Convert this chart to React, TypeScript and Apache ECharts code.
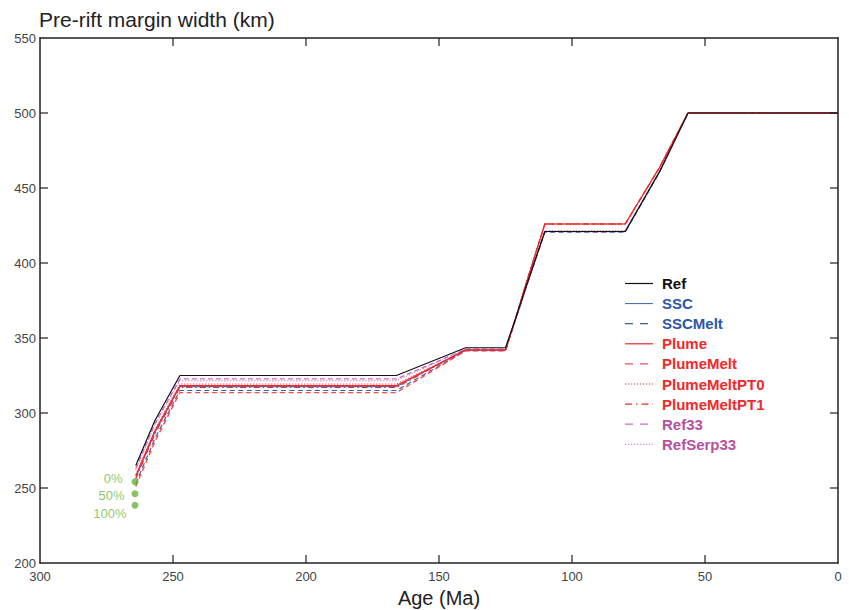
import React, { useEffect, useRef } from "react";
import * as echarts from "echarts";

const AGES = [264, 256.8, 247.4, 166, 140, 125, 121.4, 117.3, 110.2, 80, 67, 56.4, 0];

const REF = [265, 295, 325, 325, 343.5, 343.5, 362, 384, 421, 421, 461, 500, 500];
const SSC = [257, 287, 317.6, 317.6, 342, 342, 361.5, 384, 421, 421, 461.5, 500, 500];
const SSC_MELT = [253, 283, 315, 315, 341.5, 341.5, 361, 383.5, 420.5, 420.5, 461, 500, 500];
const PLUME = [258, 288, 318.3, 318.3, 342, 342, 362, 386, 426, 426, 464, 500, 500];
const PLUME_MELT = [251, 281, 313.6, 313.6, 341.5, 341.5, 362, 386, 426, 426, 464, 500, 500];
const PLUME_MELT_PT0 = [259, 289, 319.3, 319.3, 342, 342, 362, 386, 426, 426, 464, 500, 500];
const PLUME_MELT_PT1 = [256, 286, 317, 317, 342, 342, 362, 386, 426, 426, 464, 500, 500];
const REF33 = [263, 293, 322.7, 322.7, 342.5, 342.5, 361.5, 383.5, 421, 421, 461, 500, 500];
const REF_SERP33 = [262, 292, 321.5, 321.5, 342.5, 342.5, 361.5, 383.5, 421.5, 421.5, 461.5, 500, 500];

const DOT_AGE = 264.3;
const DOT_VALUES = [254.2, 246.2, 238.5];
const DOT_LABELS = ["0%", "50%", "100%"];

const X_TICKS = [300, 250, 200, 150, 100, 50, 0];
const Y_TICKS = [200, 250, 300, 350, 400, 450, 500, 550];

const FONT = "'Liberation Sans', Arial, sans-serif";
const BLACK = "#111111";
const BLUE = "#3a5fb2";
const BLUE_TXT = "#2b57a6";
const RED = "#ee2a2a";
const MAG = "#d068bf";
const MAG_TXT = "#b6509f";

type Def = { name: string; values: number[]; color: string; text: string; type: any; legendDash: any; width: number };

const DEFS: Def[] = [
  { name: "Ref", values: REF, color: BLACK, text: BLACK, type: "solid", legendDash: null, width: 1.2 },
  { name: "SSC", values: SSC, color: BLUE, text: BLUE_TXT, type: "solid", legendDash: null, width: 1 },
  { name: "SSCMelt", values: SSC_MELT, color: BLUE, text: BLUE_TXT, type: [5, 3.5], legendDash: [8, 7], width: 1.2 },
  { name: "Plume", values: PLUME, color: RED, text: RED, type: "solid", legendDash: null, width: 1.2 },
  { name: "PlumeMelt", values: PLUME_MELT, color: "#f05050", text: RED, type: [5, 3.5], legendDash: [8, 7], width: 1.4 },
  { name: "PlumeMeltPT0", values: PLUME_MELT_PT0, color: RED, text: RED, type: [1.2, 1.8], legendDash: [1.2, 1.8], width: 1 },
  { name: "PlumeMeltPT1", values: PLUME_MELT_PT1, color: RED, text: RED, type: [6, 3, 1.5, 3], legendDash: [7, 4, 1.5, 4], width: 1.1 },
  { name: "Ref33", values: REF33, color: MAG, text: MAG_TXT, type: [5, 3], legendDash: [8, 7], width: 1.3 },
  { name: "RefSerp33", values: REF_SERP33, color: MAG, text: MAG_TXT, type: [1.2, 1.8], legendDash: [1.2, 1.8], width: 1 },
];

const DRAW_ORDER = ["Ref33", "RefSerp33", "SSCMelt", "PlumeMelt", "SSC", "PlumeMeltPT1", "PlumeMeltPT0", "Plume", "Ref"];

const TICK_LEN = 8;
const AXIS_COLOR = "#222";

const mkLine = () => ({ show: true, onZero: false, lineStyle: { color: AXIS_COLOR, width: 1.5 } });

const xBase = () => ({ type: "value", min: 0, max: 300, interval: 50, inverse: true, splitLine: { show: false }, axisTick: { show: false } });
const yBase = () => ({ type: "value", min: 200, max: 550, interval: 50, splitLine: { show: false }, axisTick: { show: false } });

export default function App() {
  const ref = useRef<HTMLDivElement>(null);
  useEffect(() => {
    if (!ref.current) return;
    const chart = echarts.init(ref.current, null, { renderer: "svg" });
    const lineSeries = DRAW_ORDER.map((n) => {
      const d = DEFS.find((x) => x.name === n)!;
      return {
        name: d.name,
        type: "line",
        symbol: "none",
        silent: true,
        xAxisIndex: 0,
        yAxisIndex: 0,
        data: AGES.map((a, i) => [a, d.values[i]]),
        lineStyle: { color: d.color, width: d.width, type: d.type },
        itemStyle: { color: d.color },
      };
    });
    const legendGraphics: any[] = [];
    DEFS.forEach((d, i) => {
      const y = 283.5 + i * 20.1;
      legendGraphics.push({
        id: "lg-line-" + i,
        type: "line",
        silent: true,
        shape: { x1: 625, y1: y, x2: 653, y2: y },
        style: { stroke: d.color, lineWidth: d.width, lineDash: d.legendDash },
      });
      legendGraphics.push({
        id: "lg-text-" + i,
        type: "text",
        silent: true,
        x: 662,
        y: y,
        style: {
          text: d.name,
          fill: d.text,
          font: `bold 15px ${FONT}`,
          verticalAlign: "middle",
          align: "left",
        },
      });
    });
    const labelOffsets = [[-4, -3], [-2, 2], [0, 8]];
    const option: any = {
      animation: false,
      backgroundColor: "#ffffff",
      title: {
        text: "Pre-rift margin width (km)",
        left: 34,
        top: 4,
        textStyle: { fontFamily: FONT, fontSize: 21, fontWeight: "normal", color: AXIS_COLOR },
      },
      grid: { left: 40, right: 11, top: 38, bottom: 47, containLabel: false, outerBoundsMode: "none" },
      graphic: legendGraphics,
      xAxis: [
        {
          ...xBase(),
          position: "bottom",
          name: "Age (Ma)",
          nameLocation: "middle",
          nameGap: 25,
          nameTextStyle: { fontFamily: FONT, fontSize: 20, color: AXIS_COLOR },
          axisLine: mkLine(),
          axisLabel: {
            fontFamily: FONT,
            fontSize: 13,
            color: "#444",
            margin: 7,
            formatter: (v: number) => (X_TICKS.includes(v) ? String(v) : ""),
          },
        },
        { ...xBase(), position: "top", axisLine: mkLine(), axisLabel: { show: false } },
      ],
      yAxis: [
        {
          ...yBase(),
          position: "left",
          axisLine: mkLine(),
          axisLabel: {
            fontFamily: FONT,
            fontSize: 13,
            color: "#444",
            margin: 4,
            formatter: (v: number) => (Y_TICKS.includes(v) ? String(v) : ""),
          },
        },
        { ...yBase(), position: "right", axisLine: mkLine(), axisLabel: { show: false } },
      ],
      series: [
        ...lineSeries,
        {
          name: "dots",
          type: "scatter",
          symbolSize: 7,
          silent: true,
          z: 5,
          xAxisIndex: 0,
          yAxisIndex: 0,
          itemStyle: { color: "#6cb33f" },
          data: DOT_VALUES.map((v, i) => ({
            value: [DOT_AGE, v],
            label: {
              show: true,
              position: "left",
              distance: 5,
              offset: labelOffsets[i],
              formatter: DOT_LABELS[i],
              fontFamily: FONT,
              fontSize: 13,
              color: "#76b843",
            },
          })),
        },
      ],
    };
    chart.setOption(option);

    // Box ticks positioned through the chart's own axis scales
    const px = (v: number) => chart.convertToPixel({ xAxisIndex: 0 } as any, v) as number;
    const py = (v: number) => chart.convertToPixel({ yAxisIndex: 0 } as any, v) as number;
    const xL = px(300);
    const xR = px(0);
    const yB = py(200);
    const yT = py(550);
    const tickGraphics: any[] = [];
    const tickStyle = { stroke: AXIS_COLOR, lineWidth: 1.2 };
    X_TICKS.slice(1, -1).forEach((v, i) => {
      const x = px(v);
      tickGraphics.push({ id: "xtb-" + i, type: "line", silent: true, z: 10, shape: { x1: x, y1: yB, x2: x, y2: yB - TICK_LEN }, style: tickStyle });
      tickGraphics.push({ id: "xtt-" + i, type: "line", silent: true, z: 10, shape: { x1: x, y1: yT, x2: x, y2: yT + TICK_LEN }, style: tickStyle });
    });
    Y_TICKS.slice(1, -1).forEach((v, i) => {
      const y = py(v);
      tickGraphics.push({ id: "ytl-" + i, type: "line", silent: true, z: 10, shape: { x1: xL, y1: y, x2: xL + TICK_LEN, y2: y }, style: tickStyle });
      tickGraphics.push({ id: "ytr-" + i, type: "line", silent: true, z: 10, shape: { x1: xR, y1: y, x2: xR - TICK_LEN, y2: y }, style: tickStyle });
    });
    chart.setOption({ graphic: [...legendGraphics, ...tickGraphics] });
    return () => chart.dispose();
  }, []);
  return <div ref={ref} style={{ width: 849, height: 610, position: "absolute", left: 0, top: 0 }} />;
}
